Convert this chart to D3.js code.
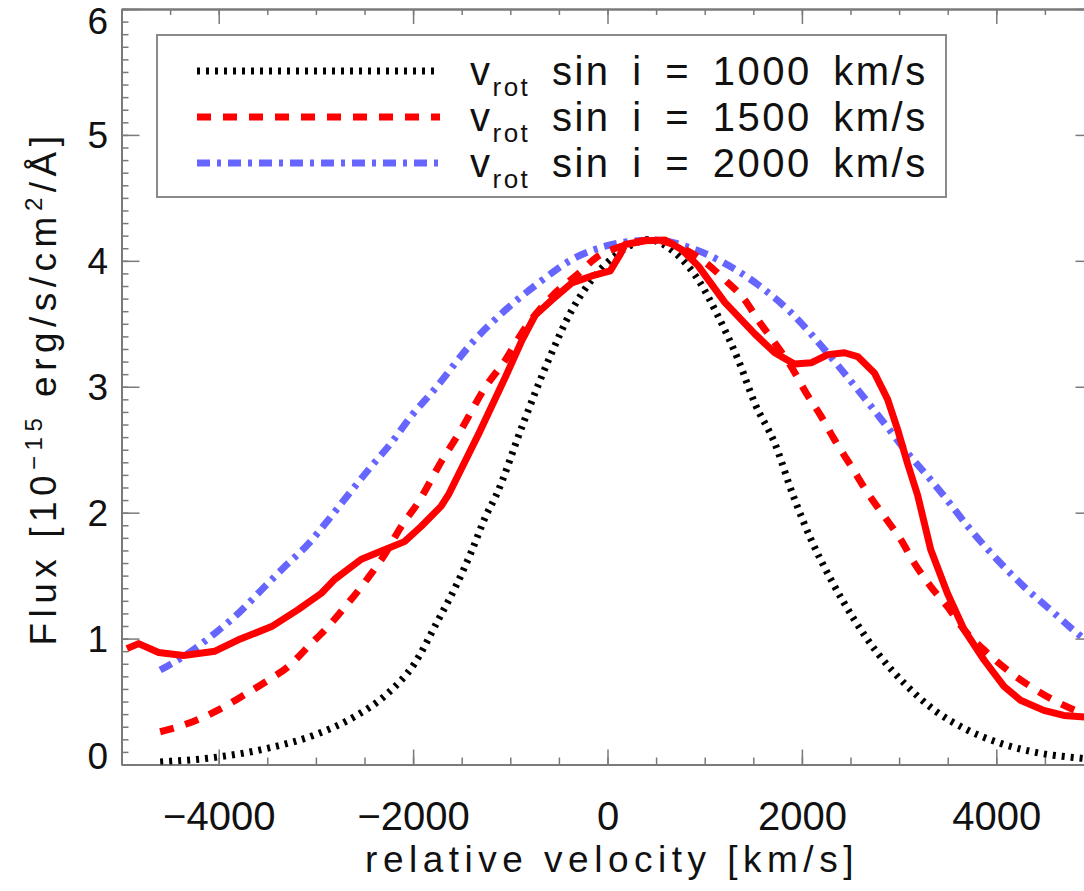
<!DOCTYPE html>
<meta charset="utf-8">
<head>
<script src="https://d3js.org/d3.v7.min.js"></script>
<style>
  body { margin: 0; background: #fff; }
  text { font-family: "Liberation Sans", Arial, sans-serif; fill: #111; }
</style>
</head>
<body>
<div id="profile"></div>
<script>
// observed line profile (solid red)
var obsVel  = [-4944,-4824,-4618,-4362,-4038,-3798,-3456,-3183,-2944,-2807,-2533,-2294,-2089,-1918,-1713,-1631,-1323,-1049,-879,-742,-571,-366,-161,28,130,181,387,592,762,933,1207,1515,1720,1925,2095,2267,2438,2574,2746,2882,2985,3087,3190,3326,3497,3669,3874,4079,4249,4489,4695,4872,5000];
var obsFlux = [0.92,0.96,0.89,0.865,0.90,0.99,1.095,1.23,1.36,1.47,1.63,1.705,1.77,1.89,2.05,2.15,2.63,3.08,3.37,3.57,3.69,3.825,3.88,3.92,4.05,4.13,4.16,4.165,4.09,3.96,3.67,3.42,3.27,3.18,3.19,3.255,3.27,3.24,3.11,2.90,2.66,2.39,2.14,1.705,1.36,1.07,0.83,0.62,0.51,0.43,0.39,0.38,0.37];

// model, v sin i = 1000 km/s (dotted black)
var m1000Vel  = [-4602,-4003,-3490,-3012,-2602,-2260,-1987,-1747,-1562,-1392,-1254,-1144,-879,-605,-366,-161,79,318,420,523,728,933,1138,1344,1515,1720,1908,2095,2300,2540,2779,3053,3361,3703,4044,4454,4872,5000];
var m1000Flux = [0.02,0.06,0.13,0.235,0.38,0.566,0.80,1.14,1.413,1.705,1.97,2.14,2.685,3.215,3.61,3.85,4.04,4.15,4.17,4.15,4.04,3.85,3.56,3.215,2.87,2.553,2.14,1.785,1.467,1.149,0.884,0.645,0.433,0.274,0.168,0.089,0.05,0.04];

// model, v sin i = 1500 km/s (dashed red)
var m1500Vel  = [-4602,-4311,-4003,-3764,-3490,-3285,-3080,-2875,-2670,-2465,-2294,-2123,-1952,-1699,-1528,-1254,-1049,-879,-571,-297,-126,147,454,728,967,1207,1412,1549,1720,1890,2044,2198,2335,2506,2677,2848,3018,3156,3326,3497,3669,3874,4113,4352,4592,4872,5000];
var m1500Flux = [0.26,0.327,0.433,0.54,0.67,0.777,0.936,1.095,1.28,1.48,1.665,1.89,2.076,2.42,2.63,3.0,3.215,3.43,3.72,3.90,4.02,4.116,4.165,4.116,4.01,3.85,3.69,3.53,3.35,3.16,2.95,2.765,2.58,2.37,2.156,1.97,1.785,1.60,1.413,1.254,1.07,0.91,0.75,0.62,0.51,0.41,0.37];

// model, v sin i = 2000 km/s (dash-dot blue)
var m2000Vel  = [-4602,-4311,-4038,-3798,-3559,-3320,-3080,-2875,-2653,-2431,-2226,-2021,-1782,-1392,-1049,-708,-366,-24,249,489,865,1207,1549,1890,2233,2574,2848,3087,3326,3464,3736,4010,4284,4557,4831,5000];
var m2000Flux = [0.75,0.884,1.043,1.20,1.387,1.572,1.75,1.94,2.156,2.367,2.553,2.765,2.977,3.35,3.61,3.825,4.01,4.116,4.156,4.165,4.10,3.98,3.81,3.587,3.295,2.977,2.71,2.474,2.26,2.13,1.864,1.626,1.413,1.228,1.043,0.94];

var legendLabels = ["1000", "1500", "2000"];
var xTickValues = [-4000, -2000, 0, 2000, 4000];
var yTickValues = [0, 1, 2, 3, 4, 5, 6];

// set the dimensions and margins of the graph
var margin = {top: 9, left: 121.5},
    width = 972,
    height = 755.5;

var svg = d3.select("#profile")
  .append("svg")
    .attr("width", 1084)
    .attr("height", 891)
  .append("g")
    .attr("transform", "translate(" + margin.left + "," + margin.top + ")");

var x = d3.scaleLinear().domain([-5000, 5000]).range([0, width]);
var y = d3.scaleLinear().domain([0, 6]).range([height, 0]);

var axisColor = "#7a7a7a";
var fmt = d3.format("d");

// minor ticks
var xMinor = d3.range(-5000, 5001, 500);
var yMinor = d3.range(0, 60.5, 1).map(function(d) { return d / 10; });

function styleAxis(g) {
  g.select(".domain").attr("stroke", axisColor).attr("stroke-width", 2);
  g.selectAll(".tick line").attr("stroke", axisColor).attr("stroke-width", 1.5);
}

svg.append("g").attr("transform", "translate(0," + height + ")")
  .call(d3.axisBottom(x).tickValues(xMinor).tickSize(-7).tickSizeOuter(0).tickFormat(""))
  .call(styleAxis);
svg.append("g")
  .call(d3.axisTop(x).tickValues(xMinor).tickSize(-6).tickSizeOuter(0).tickFormat(""))
  .call(styleAxis);
svg.append("g")
  .call(d3.axisLeft(y).tickValues(yMinor).tickSize(-7).tickSizeOuter(0).tickFormat(""))
  .call(styleAxis);
svg.append("g").attr("transform", "translate(" + width + ",0)")
  .call(d3.axisRight(y).tickValues(yMinor).tickSize(-7).tickSizeOuter(0).tickFormat(""))
  .call(styleAxis);

// major ticks + labels
var xAxis = svg.append("g").attr("transform", "translate(0," + height + ")")
  .call(d3.axisBottom(x).tickValues(xTickValues).tickSize(-15).tickSizeOuter(0).tickPadding(37).tickFormat(fmt))
  .call(styleAxis);
xAxis.selectAll("text").attr("font-size", 40).attr("font-family", "Liberation Sans").attr("fill", "#111");

svg.append("g")
  .call(d3.axisTop(x).tickValues(xTickValues).tickSize(-15).tickSizeOuter(0).tickFormat(""))
  .call(styleAxis);

var yAxis = svg.append("g")
  .call(d3.axisLeft(y).tickValues(yTickValues).tickSize(-18).tickSizeOuter(0).tickPadding(13.5).tickFormat(fmt))
  .call(styleAxis);
yAxis.selectAll("text").attr("font-size", 37).attr("font-family", "Liberation Sans").attr("fill", "#111")
  .attr("dy", function(d) { return d === 0 ? "0.12em" : d === 6 ? "0.66em" : "0.34em"; });

svg.append("g").attr("transform", "translate(" + width + ",0)")
  .call(d3.axisRight(y).tickValues(yTickValues).tickSize(-18).tickSizeOuter(0).tickFormat(""))
  .call(styleAxis);

// axis titles
svg.append("text")
  .attr("x", 612 - margin.left)
  .attr("y", 872 - margin.top)
  .attr("text-anchor", "middle")
  .attr("font-size", 37)
  .style("letter-spacing", "5.5px")
  .text("relative velocity [km/s]");

var yt = svg.append("text")
  .attr("transform", "translate(" + (56 - margin.left) + "," + (388 - margin.top) + ") rotate(-90)")
  .attr("text-anchor", "middle")
  .attr("font-size", 37)
  .style("letter-spacing", "5.5px");
yt.append("tspan").text("Flux [10");
yt.append("tspan").attr("dy", -14).attr("font-size", 24).text("\u221215");
yt.append("tspan").attr("dy", 14).text(" erg/s/cm");
yt.append("tspan").attr("dy", -14).attr("font-size", 24).text("2");
yt.append("tspan").attr("dy", 14).text("/\u00c5]");

// curves
svg.append("clipPath").attr("id", "plotclip")
  .append("rect").attr("width", width).attr("height", height);

var line = d3.line()
  .x(function(d) { return x(d[0]); })
  .y(function(d) { return y(d[1]); });
var smooth = d3.line()
  .x(function(d) { return x(d[0]); })
  .y(function(d) { return y(d[1]); })
  .curve(d3.curveMonotoneX);

var series = [
  {vel: m1000Vel, flux: m1000Flux, color: "#000000", width: 7, dash: "3,6", gen: smooth},
  {vel: m2000Vel, flux: m2000Flux, color: "#6666ff", width: 7, dash: "13,7,4,7", gen: smooth},
  {vel: m1500Vel, flux: m1500Flux, color: "#ff0000", width: 7, dash: "14,12", gen: smooth},
  {vel: obsVel, flux: obsFlux, color: "#ff0000", width: 7, dash: null, gen: line}
];

var plot = svg.append("g").attr("clip-path", "url(#plotclip)");
series.forEach(function(s) {
  var pts = s.vel.map(function(v, i) { return [v, s.flux[i]]; });
  plot.append("path")
    .datum(pts)
    .attr("fill", "none")
    .attr("stroke", s.color)
    .attr("stroke-width", s.width)
    .attr("stroke-dasharray", s.dash)
    .attr("stroke-linejoin", "round")
    .attr("d", s.gen);
});

// legend
var legend = svg.append("g").attr("transform", "translate(" + (157 - margin.left) + "," + (35 - margin.top) + ")");
legend.append("rect")
  .attr("width", 789).attr("height", 162)
  .attr("fill", "#fff").attr("stroke", "#8a8a8a").attr("stroke-width", 2);

var legendStyles = [series[0], series[2], series[1]];
legendLabels.forEach(function(lab, i) {
  var ly = 36 + i * 46;
  var s = legendStyles[i];
  legend.append("line")
    .attr("x1", 40).attr("x2", 283).attr("y1", ly).attr("y2", ly)
    .attr("stroke", s.color).attr("stroke-width", s.width)
    .attr("stroke-dasharray", s.dash);
  var t = legend.append("text")
    .attr("x", 313).attr("y", ly + 14)
    .attr("font-size", 40)
    .style("letter-spacing", "2.5px")
    .style("word-spacing", "8px")
    .style("white-space", "pre");
  t.append("tspan").text("v");
  t.append("tspan").attr("dy", 11).attr("font-size", 26).text("rot");
  t.append("tspan").attr("dy", -11).text(" sin i = " + lab + " km/s");
});
</script>
</body>
